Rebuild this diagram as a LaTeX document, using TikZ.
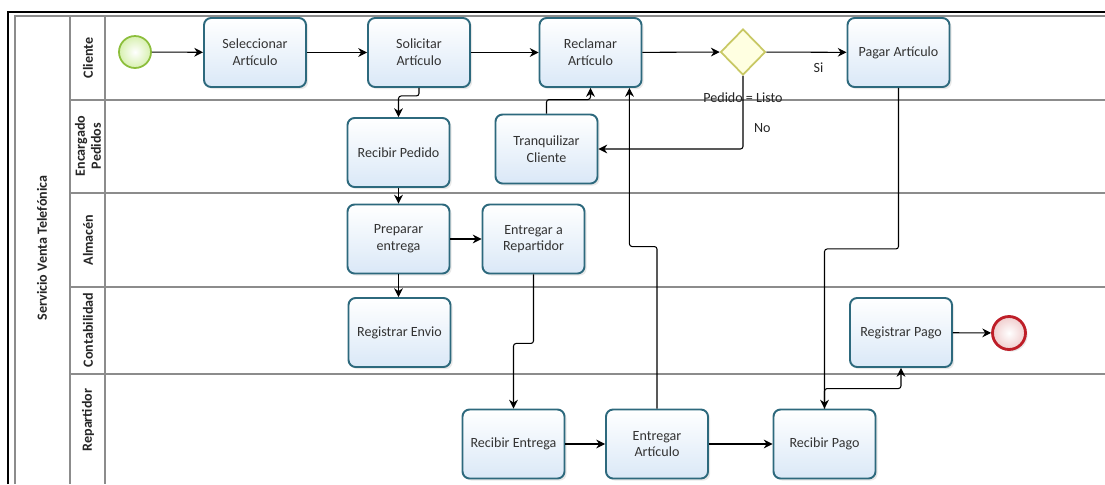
\documentclass[tikz,border=0pt]{standalone}
\usepackage{fontspec}
\setmainfont{Carlito}
\usepackage{xcolor}
\usetikzlibrary{arrows.meta, shadows, shapes.geometric}
\definecolor{borde}{RGB}{45,105,125}
\definecolor{azul}{RGB}{218,232,247}
\definecolor{linea}{RGB}{140,140,140}
\tikzset{
  tarea/.style={draw=borde, line width=1.1pt, rounded corners=4pt,
    top color=white, bottom color=azul, minimum width=2.04cm, minimum height=1.38cm,
    align=center, text=black!80, font=\fontsize{8}{9.5}\selectfont,
    drop shadow={opacity=0.18, shadow xshift=1.2pt, shadow yshift=-1.2pt}},
  flujo/.style={-{Stealth[length=5pt,width=5pt]}, line width=0.6pt, rounded corners=1.5pt},
  carril/.style={rotate=90, align=center, font=\bfseries\fontsize{8}{9}\selectfont, text=black!85},
  etiq/.style={font=\fontsize{8}{9}\selectfont, text=black!85, inner sep=1pt},
}

\begin{document}
\begin{tikzpicture}[x=0.02cm, y=-0.02cm]
    \useasboundingbox (0,0) rectangle (1105,484);
    % 外框
    \draw[line width=0.8pt] (8,484) -- (8,12) -- (1105,12);
    \draw[linea, line width=0.6pt] (15,484) -- (15,16) -- (1105,16);
    \draw[linea, line width=0.6pt] (70,16) -- (70,484);
    \draw[linea, line width=0.6pt] (105,16) -- (105,484);
    \foreach \y in {100,193,287,374}
        \draw[linea, line width=0.6pt] (70,\y) -- (1105,\y);
    % 泳道名称
    \node[carril] (pool) at (42,248) {Servicio Venta Telefónica};
    \node[carril] (lcli) at (88,58) {Cliente};
    \node[carril] (lenc) at (88,146) {Encargado\\Pedidos};
    \node[carril] (lalm) at (88,240) {Almacén};
    \node[carril] (lcon) at (88,330) {Contabilidad};
    \node[carril] (lrep) at (88,420) {Repartidor};

    % 事件与网关
    \node[circle, draw={rgb,255:red,140;green,190;blue,60}, line width=1pt, inner sep=0,
        minimum size=0.64cm, inner color=white, outer color={rgb,255:red,215;green,240;blue,175}]
        (ini) at (135,52) {};
    \node[circle, draw={rgb,255:red,190;green,30;blue,40}, line width=1.6pt, inner sep=0,
        minimum size=0.66cm, inner color=white, outer color={rgb,255:red,240;green,205;blue,205},
        drop shadow={opacity=0.18, shadow xshift=1.2pt, shadow yshift=-1.2pt}]
        (fin) at (1009,333) {};
    \node[diamond, draw={rgb,255:red,200;green,200;blue,100}, line width=1pt, inner sep=0,
        minimum width=0.9cm, minimum height=0.92cm, fill={rgb,255:red,255;green,255;blue,225}]
        (gw) at (743,52) {};

    % 任务
    \node[tarea] (sa) at (255,52.5) {Seleccionar\\Artículo};
    \node[tarea] (sol) at (419,52.5) {Solicitar\\Artículo};
    \node[tarea] (rc) at (590.5,52.5) {Reclamar\\Artículo};
    \node[tarea] (pa) at (898.5,52.5) {Pagar Artículo};
    \node[tarea] (rp) at (398.5,152.5) {Recibir Pedido};
    \node[tarea] (tq) at (546.5,149) {Tranquilizar\\Cliente};
    \node[tarea] (pe) at (398.5,239) {Preparar\\entrega};
    \node[tarea] (er) at (533.5,239) {Entregar a\\Repartidor};
    \node[tarea] (ren) at (399.5,332.5) {Registrar Envio};
    \node[tarea] (rgp) at (901,332.5) {Registrar Pago};
    \node[tarea] (re) at (513.5,444) {Recibir Entrega};
    \node[tarea] (ea) at (657,444) {Entregar\\Artículo};
    \node[tarea] (rpg) at (824.5,444) {Recibir Pago};

    % 流程
    \draw[flujo] (ini) -- (sa);
    \draw[flujo] (sa) -- (sol);
    \draw[flujo] (sol) -- (rc);
    \draw[flujo] (rc) -- (gw);
    \draw[flujo] (gw) -- node[etiq, pos=0.65, below=5pt]{Si} (pa);
    \draw[flujo] (gw.south) |- node[etiq, pos=0.15]{Pedido = Listo}
        node[etiq, pos=0.36, right=5pt]{No} (tq.east);
    \draw[flujo] (sol.south) -- ++(0,8) -| (rp.north);
    \draw[flujo] (tq.north) -- ++(0,-14) -| (rc.south);
    \draw[flujo] (rp) -- (pe);
    \draw[flujo] (pe) -- (er);
    \draw[flujo] (pe.south) -- (ren.north -| pe.south);
    \draw[flujo] (er.south) -- ++(0,69) -| (re.north);
    \draw[flujo] (re) -- (ea);
    \draw[flujo] (ea.north) -- ++(0,-162) -| ([xshift=-0.26cm]rc.south east);
    \draw[flujo] (ea) -- (rpg);
    \draw[flujo] (pa.south) -- ++(0,161) -| (rpg.north);
    \draw[flujo] (rpg.north) -- ++(0,-20) -| (rgp.south);
    \draw[flujo] (rgp) -- (fin);
\end{tikzpicture}
\end{document}
